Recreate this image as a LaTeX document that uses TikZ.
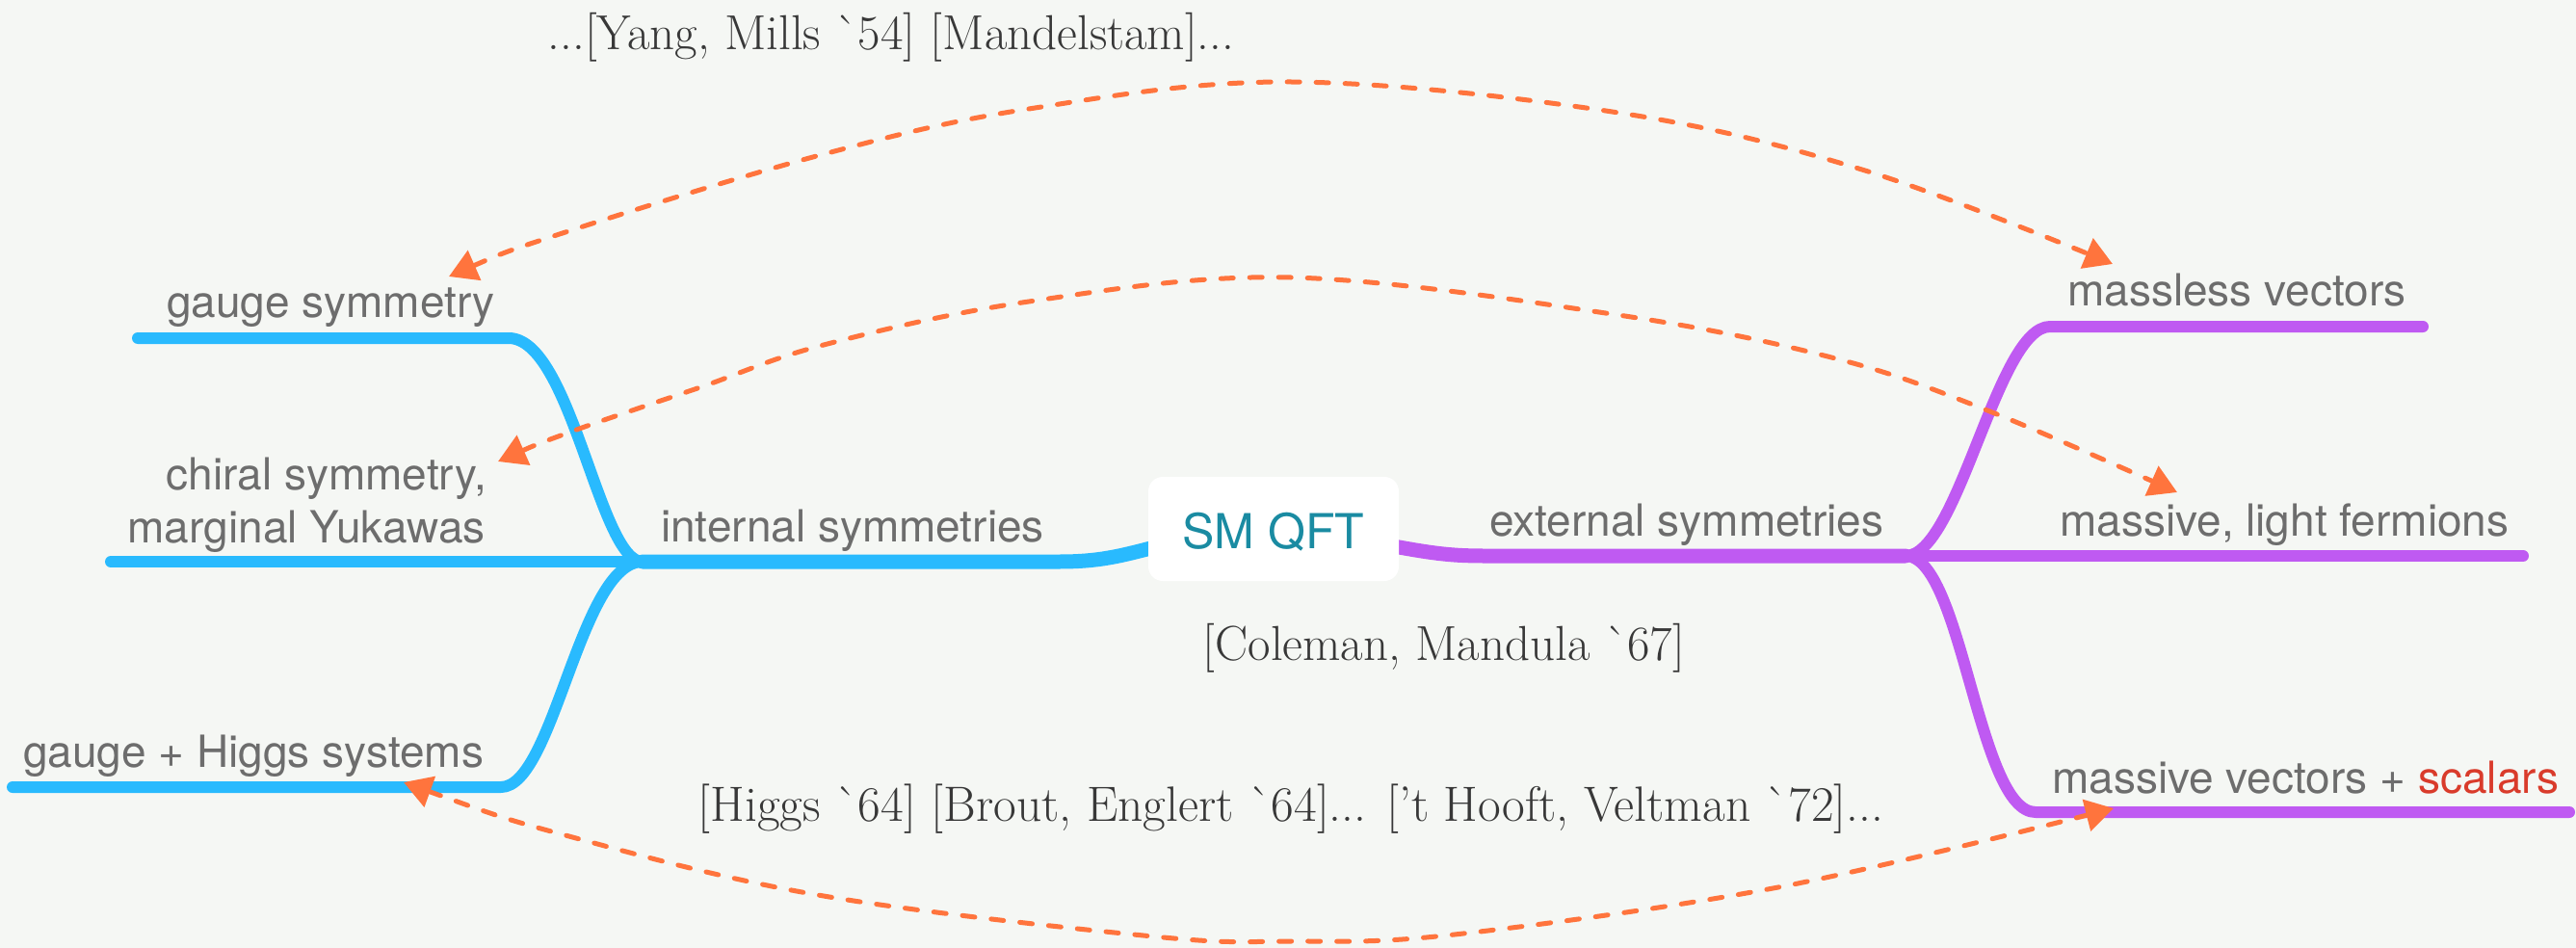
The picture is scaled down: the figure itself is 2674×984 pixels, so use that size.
\documentclass[tikz,border=0pt]{standalone}
\usepackage{fontspec}
\newfontfamily\lab{TeX Gyre Heros}
\usetikzlibrary{arrows.meta}
\definecolor{bgcol}{HTML}{F5F7F4}
\definecolor{bluecol}{RGB}{41,186,254}
\definecolor{purplecol}{RGB}{191,90,242}
\definecolor{orangecol}{RGB}{255,116,61}
\definecolor{labgray}{HTML}{6D6D6D}
\definecolor{tealcol}{HTML}{1A8BA2}
\definecolor{redcol}{HTML}{D93B2B}
\definecolor{refgray}{HTML}{383838}
\tikzset{
  lbl/.style={font=\lab\fontsize{46}{56}\selectfont, text=labgray, inner sep=0pt},
  reftext/.style={font=\fontsize{51}{60}\selectfont, text=refgray, inner sep=0pt, anchor=base},
  blueline/.style={draw=bluecol, line width=12pt, line cap=round, line join=round},
  bluetrunk/.style={draw=bluecol, line width=15pt, line cap=round, line join=round},
  purpleline/.style={draw=purplecol, line width=12pt, line cap=round, line join=round},
  purpletrunk/.style={draw=purplecol, line width=15pt, line cap=round, line join=round},
  rootbox/.style={fill=white, rounded corners=15pt, minimum width=260pt, minimum height=108pt,
    inner sep=0pt, text height=40pt, text depth=0pt, text=tealcol, font=\lab\fontsize{50}{60}\selectfont},
  refarrow/.style={draw=orangecol, line width=5pt, dash pattern=on 13pt off 17pt, line cap=round,
    {Triangle[length=29pt,width=33pt]}-{Triangle[length=29pt,width=33pt]}}
}
\begin{document}
\begin{tikzpicture}[x=1pt,y=-1pt]
\useasboundingbox (0,0) rectangle (2674,984);
\fill[bgcol] (0,0) rectangle (2674,984);

% junctions and line ends
\coordinate (JL) at (667,583);
\coordinate (JR) at (1978,577);
\coordinate (gaugeEnd) at (143,351);
\coordinate (gaugeC) at (528,351);
\coordinate (chiralEnd) at (115,583);
\coordinate (higgsEnd) at (13,817);
\coordinate (higgsC) at (520,817);
\coordinate (trunkL) at (1215,564);
\coordinate (trunkR) at (1430,564);
\coordinate (masslessC) at (2128,339);
\coordinate (masslessEnd) at (2515,339);
\coordinate (fermEnd) at (2619,577);
\coordinate (mvC) at (2113,843);
\coordinate (mvEnd) at (2667,843);

% blue tree
\draw[bluetrunk] (JL) -- (1100,583) .. controls (1150,583) and (1172,574) .. (trunkL);
\draw[blueline] (gaugeEnd) -- (gaugeC) .. controls (593,351) and (622,583) .. (JL);
\draw[blueline] (chiralEnd) -- (JL);
\draw[blueline] (higgsEnd) -- (higgsC) .. controls (575,817) and (602,583) .. (JL);

% purple tree
\draw[purpletrunk] (trunkR) .. controls (1480,573) and (1500,577) .. (1540,577) -- (JR);
\draw[purpleline] (JR) -- (fermEnd);
\draw[purpleline] (JR) .. controls (2033,577) and (2073,339) .. (masslessC) -- (masslessEnd);
\draw[purpleline] (JR) .. controls (2037,577) and (2053,843) .. (mvC) -- (mvEnd);

% root
\node[rootbox] (root) at (1322,549) {SM QFT};

% labels
\node[lbl, anchor=base west] (gauge) at (173,329) {gauge symmetry};
\node[lbl, anchor=base east] (chiral) at (505,508) {chiral symmetry,};
\node[lbl, anchor=base east] (yukawa) at (504,563) {marginal Yukawas};
\node[lbl, anchor=base west] (higgs) at (24,796) {gauge + Higgs systems};
\node[lbl, anchor=base west] (internal) at (686,562) {internal symmetries};
\node[lbl, anchor=base west] (external) at (1546,556) {external symmetries};
\node[lbl, anchor=base west] (massless) at (2146,317) {massless vectors};
\node[lbl, anchor=base west] (fermions) at (2138,556) {massive, light fermions};
\node[lbl, anchor=base west] (massive) at (2130,823) {massive vectors + \textcolor{redcol}{scalars}};

% references
\node[reftext] (ym) at (925,52) {...[Yang, Mills \textasciigrave54] [Mandelstam]...};
\node[reftext] (cm) at (1499,685) {[Coleman, Mandula \textasciigrave67]};
\node[reftext, font=\fontsize{51.5}{60}\selectfont] (hg) at (1340,852) {[Higgs \textasciigrave64] [Brout, Englert \textasciigrave64]... [’t Hooft, Veltman \textasciigrave72]...};

% arrows
\coordinate (tipA1) at (466,287);
\coordinate (tipA2) at (2193,274);
\coordinate (tipB1) at (517,479);
\coordinate (tipB2) at (2260,511);
\coordinate (tipC1) at (419,812);
\coordinate (tipC2) at (2194,839);
\draw[refarrow] plot[smooth, tension=0.6] coordinates {(tipA1) (590,240) (855,160) (1068,113) (1340,85) (1680,117) (1936,177) (tipA2)};
\draw[refarrow] plot[smooth, tension=0.6] coordinates {(tipB1) (593,448) (727,402) (855,358) (1068,313) (1340,288) (1680,327) (1905,372) (2063,426) (tipB2)};
\draw[refarrow] plot[smooth, tension=0.6] coordinates {(tipC1) (598,870) (855,930) (1197,972) (1340,977) (1510,970) (1851,920) (tipC2)};
\end{tikzpicture}
\end{document}
